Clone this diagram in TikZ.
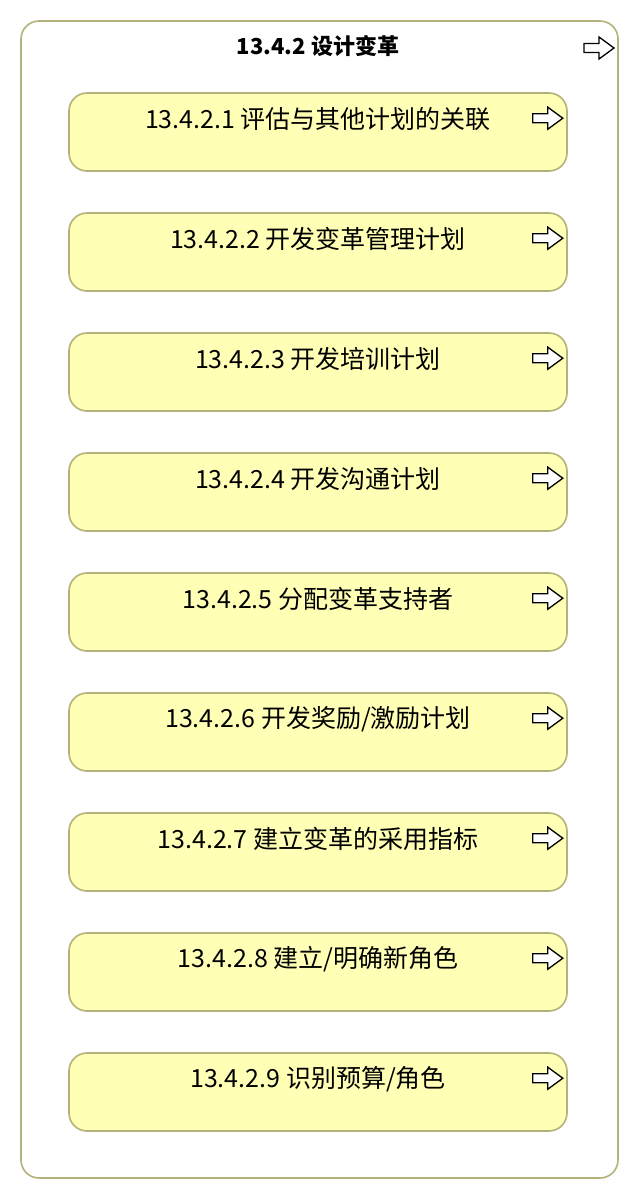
\documentclass[tikz,border=0pt]{standalone}
\usepackage{fontspec}
\setmainfont{Noto Sans CJK SC}
\usetikzlibrary{positioning}
\definecolor{boxfill}{RGB}{255,255,181}
\definecolor{boxline}{RGB}{178,178,122}
\tikzset{font=\fontsize{25}{28}\selectfont}
\tikzset{groupbox/.style={draw=boxline, line width=1.6pt, rounded corners=18pt, fill=white,
                          minimum width=597pt, minimum height=1157pt, inner sep=0pt}}
\tikzset{taskbox/.style={draw=boxline, line width=1.6pt, rounded corners=18pt, fill=boxfill,
                         minimum width=498pt, minimum height=78pt, inner sep=0pt}}
\tikzset{tasklabel/.style={inner sep=0pt, anchor=center}}
\tikzset{flowarrow/.pic={\draw[line width=1.3pt, line join=miter, fill=white]
        (-15,-4.5)--(0,-4.5)--(0,-11)--(15,0)--(0,11)--(0,4.5)--(-15,4.5)--cycle;}}

\begin{document}
\begin{tikzpicture}[x=1pt, y=-1pt]
  \useasboundingbox (0,0) rectangle (640,1200);
  \node[groupbox] (design) at (319.5,599.5) {};
  \node[tasklabel, font=\fontsize{22}{26}\selectfont\bfseries] (designlbl) at (318,46) {13.4.2 设计变革};
  \pic at (599,48) {flowarrow};

  \foreach \i/\txt in {1/{评估与其他计划的关联}, 2/{开发变革管理计划}, 3/{开发培训计划},
                       4/{开发沟通计划}, 5/{分配变革支持者}, 6/{开发奖励/激励计划},
                       7/{建立变革的采用指标}, 8/{建立/明确新角色}, 9/{识别预算/角色}}{
    \node[taskbox] (task\i) at (318,{12+120*\i}) {};
    \node[tasklabel] (tasklbl\i) at ([yshift=-27pt]task\i.north) {13.4.2.\i\ \txt};
    \pic at ([xshift=-20pt, yshift=-26pt]task\i.north east) {flowarrow};
  };
\end{tikzpicture}
\end{document}
